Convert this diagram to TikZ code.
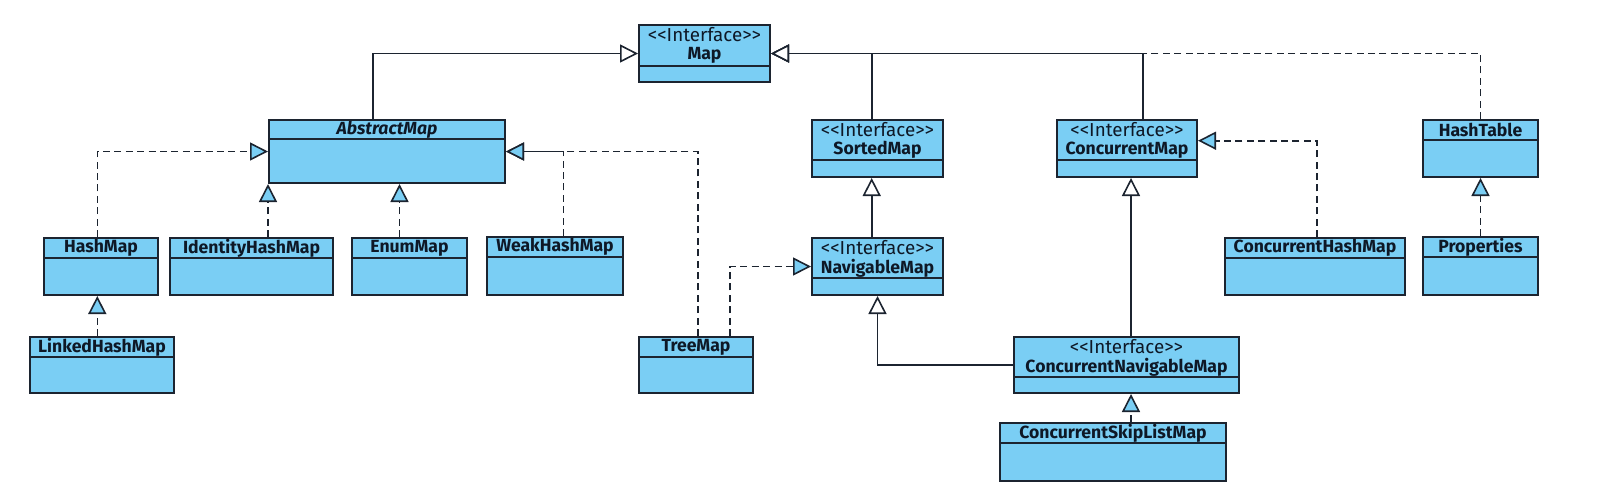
\documentclass[tikz,border=0pt]{standalone}
\usepackage{fontspec}
\setmainfont{Fira Sans}
\usetikzlibrary{arrows.meta,fit}
\definecolor{umlblue}{RGB}{122,206,244}
\definecolor{umlline}{RGB}{28,36,48}
\definecolor{umltext}{RGB}{14,24,38}
\tikzset{
 cls/.style={draw=umlline, fill=umlblue, line width=1pt, inner sep=0pt},
 divline/.style={draw=umlline, line width=1pt},
 hdr/.style={text=umltext, font=\fontsize{9.4}{11}\selectfont, inner sep=0pt, align=center},
 hdrb/.style={text=umltext, font=\fontsize{8.8}{10.5}\selectfont\bfseries, inner sep=0pt, align=center},
 hdrbi/.style={hdrb, font=\fontsize{8.8}{10.5}\selectfont\bfseries\itshape},
 conn/.style={draw=umlline, line width=0.8pt},
 gen/.style={conn, -{Triangle[length=9pt,width=9pt,fill=white,line width=0.8pt]}},
 real/.style={conn, dash pattern=on 3.5pt off 2.2pt, -{Triangle[length=9pt,width=9pt,fill=umlblue,line width=0.8pt]}},
 realw/.style={conn, dash pattern=on 3.5pt off 2.2pt, -{Triangle[length=9pt,width=9pt,fill=white,line width=0.8pt]}},
}
% #1 name, #2 x1, #3 y1, #4 x2, #5 y2, #6 divider y
\newcommand\umlbox[6]{%
  \node[cls, fit={(#2,#3) (#4,#5)}] (#1) {};
  \draw[divline] (#2,#6) -- (#4,#6);
}
\newcommand\iface{<{}<Interface>{}>}
\begin{document}
\begin{tikzpicture}[x=0.5pt,y=-0.5pt]
\fill[white] (0,0) rectangle (1600,500);
\useasboundingbox (0,0) rectangle (1600,500);

% boxes
\umlbox{map}{639}{25}{770}{82}{66}
\node[hdr] (map-s) at (704.5,35) {\iface};
\node[hdrb] (map-t) at (704.5,55) {Map};

\umlbox{abstractmap}{269}{120}{505}{183}{139}
\node[hdrbi] (abstractmap-t) at (387,129.5) {AbstractMap};

\umlbox{sortedmap}{812}{120}{943}{177}{159.5}
\node[hdr] (sortedmap-s) at (877.5,130) {\iface};
\node[hdrb] (sortedmap-t) at (877.5,150) {SortedMap};

\umlbox{concurrentmap}{1057}{120}{1197}{177}{160}
\node[hdr] (concurrentmap-s) at (1127,130) {\iface};
\node[hdrb] (concurrentmap-t) at (1127,150) {ConcurrentMap};

\umlbox{hashtable}{1423}{120}{1538}{177}{139.5}
\node[hdrb] (hashtable-t) at (1480.5,129.8) {HashTable};

\umlbox{hashmap}{44}{238}{158}{295}{258}
\node[hdrb] (hashmap-t) at (101,248) {HashMap};

\umlbox{identityhashmap}{170}{238}{333}{295}{258}
\node[hdrb] (identityhashmap-t) at (251.5,248) {IdentityHashMap};

\umlbox{enummap}{352}{238}{467}{295}{258}
\node[hdrb] (enummap-t) at (409.5,248) {EnumMap};

\umlbox{weakhashmap}{487}{237}{623}{295}{257}
\node[hdrb] (weakhashmap-t) at (555,247) {WeakHashMap};

\umlbox{navigablemap}{812}{238}{943}{295}{278}
\node[hdr] (navigablemap-s) at (877.5,248) {\iface};
\node[hdrb] (navigablemap-t) at (877.5,268) {NavigableMap};

\umlbox{concurrenthashmap}{1225}{238}{1405}{295}{258}
\node[hdrb] (concurrenthashmap-t) at (1315,248) {ConcurrentHashMap};

\umlbox{properties}{1423}{237}{1538}{295}{257}
\node[hdrb] (properties-t) at (1480.5,247) {Properties};

\umlbox{linkedhashmap}{30}{337}{174}{393}{357}
\node[hdrb] (linkedhashmap-t) at (102,347) {LinkedHashMap};

\umlbox{treemap}{639}{337}{753}{393}{357}
\node[hdrb] (treemap-t) at (696,347) {TreeMap};

\umlbox{concurrentnavigablemap}{1014}{337}{1239}{393}{377}
\node[hdr] (concurrentnavigablemap-s) at (1126.5,347) {\iface};
\node[hdrb] (concurrentnavigablemap-t) at (1126.5,367) {ConcurrentNavigableMap};

\umlbox{concurrentskiplistmap}{1000}{423}{1226}{481}{443}
\node[hdrb] (concurrentskiplistmap-t) at (1113,433) {ConcurrentSkipListMap};

% connectors to Map
\draw[realw] (hashtable.north) |- (map.east);
\draw[gen] ([xshift=8pt]concurrentmap.north) |- (map.east);
\draw[gen] ([xshift=-2.9pt]sortedmap.north) |- (map.east);
\draw[gen] ([xshift=-7pt]abstractmap.north) |- (map.west);

% connectors to AbstractMap
\draw[real] ([xshift=-1.85pt]hashmap.north) |- (abstractmap.west);
\draw[real] (identityhashmap.north -| abstractmap.south west) -- (abstractmap.south west);
\draw[real] ([xshift=-5pt]enummap.north) -- ([xshift=-5pt]enummap.north |- abstractmap.south);
\draw[real] ([xshift=4.15pt]weakhashmap.north) |- (abstractmap.east);
\draw[real] ([xshift=0.85pt]treemap.north) |- (abstractmap.east);

% others
\draw[real] ([xshift=-1.85pt]hashmap.south |- linkedhashmap.north) -- ([xshift=-1.85pt]hashmap.south);
\draw[real] ([xshift=17pt]treemap.north) |- (navigablemap.west);
\draw[gen] ([xshift=-2.9pt]navigablemap.north) -- ([xshift=-2.9pt]sortedmap.south);
\draw[gen] (concurrentnavigablemap.west) -| (navigablemap.south);
\draw[gen] ([xshift=2pt]concurrentmap.south |- concurrentnavigablemap.north) -- ([xshift=2pt]concurrentmap.south);
\draw[real] ([xshift=1pt]concurrenthashmap.north) |- ([yshift=3.9pt]concurrentmap.east);
\draw[real] ([xshift=9pt]concurrentskiplistmap.north) -- ([xshift=9pt]concurrentskiplistmap.north |- concurrentnavigablemap.south);
\draw[real] (properties.north) -- (hashtable.south);
\end{tikzpicture}
\end{document}
